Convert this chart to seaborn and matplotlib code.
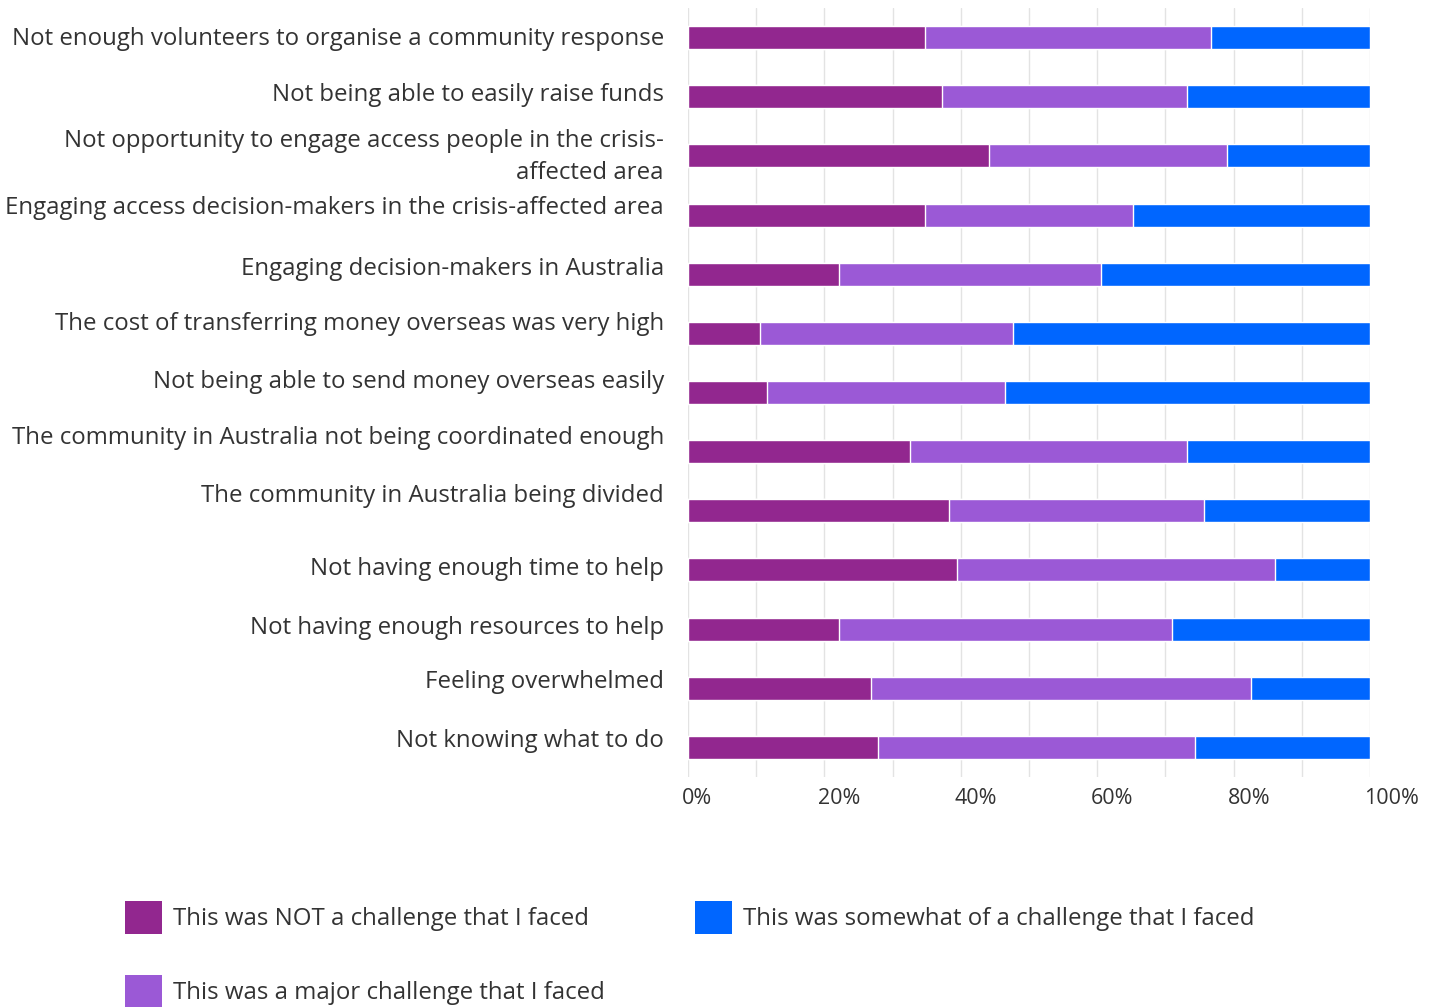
import matplotlib
matplotlib.use("Agg")
import matplotlib.pyplot as plt
import matplotlib.transforms as mtransforms
from matplotlib.patches import Patch
import numpy as np
import pandas as pd
import seaborn as sns

# Survey items (top to bottom)
categories = [
    "Not enough volunteers to organise a community response",
    "Not being able to easily raise funds",
    "Not opportunity to engage access people in the crisis-\naffected area",
    "Engaging access decision-makers in the crisis-affected area",
    "Engaging decision-makers in Australia",
    "The cost of transferring money overseas was very high",
    "Not being able to send money overseas easily",
    "The community in Australia not being coordinated enough",
    "The community in Australia being divided",
    "Not having enough time to help",
    "Not having enough resources to help",
    "Feeling overwhelmed",
    "Not knowing what to do",
]

# Share of respondents (%) per answer
not_challenge = [34.8, 37.2, 44.2, 34.8, 22.1, 10.5, 11.6, 32.5, 38.3, 39.5, 22.1, 26.8, 27.9]
major_challenge = [41.9, 36.0, 34.9, 30.4, 38.4, 37.2, 34.9, 40.7, 37.3, 46.6, 48.8, 55.8, 46.5]
somewhat_challenge = [23.3, 26.8, 20.9, 34.8, 39.5, 52.3, 53.5, 26.8, 24.4, 13.9, 29.1, 17.4, 25.6]

series_names = [
    "This was NOT a challenge that I faced",
    "This was a major challenge that I faced",
    "This was somewhat of a challenge that I faced",
]
colors = ["#92278F", "#9B59D6", "#0066FF"]

x_ticks = [0, 20, 40, 60, 80, 100]
x_tick_labels = ["0%", "20%", "40%", "60%", "80%", "100%"]

# Vertical nudge (pixels, up) for each category label
label_nudge = [-1, 2, -1, 7, 5, 9, 10, 14, 15, 1, 1, 6, 6]

df = pd.DataFrame({
    "item": categories,
    "not": not_challenge,
    "major": major_challenge,
    "somewhat": somewhat_challenge,
})
df["cum_major"] = df["not"] + df["major"]
df["cum_all"] = df["cum_major"] + df["somewhat"]

sns.set_style("white")
text_color = "#333333"
plt.rcParams["font.family"] = ["Open Sans", "DejaVu Sans"]

W, H, DPI = 1431, 1007, 100
fig = plt.figure(figsize=(W / DPI, H / DPI), dpi=DPI)
ax = fig.add_axes([688 / W, 1 - 777 / H, 682 / W, 769 / H])

# Stacked bars: draw cumulative totals back to front
bar_w = 0.39
sns.barplot(data=df, x="cum_all", y="item", order=categories, orient="h",
            color=colors[2], width=bar_w, saturation=1, ax=ax, zorder=3)
sns.barplot(data=df, x="cum_major", y="item", order=categories, orient="h",
            color=colors[1], width=bar_w, saturation=1, ax=ax, zorder=4)
sns.barplot(data=df, x="not", y="item", order=categories, orient="h",
            color=colors[0], width=bar_w, saturation=1, ax=ax, zorder=5)

ax.set_xlim(0, 100)
ax.set_ylim(len(categories) - 0.5, -0.5)
ax.set_xlabel("")
ax.set_ylabel("")

# Grid lines every 10%
ax.set_xticks(np.arange(0, 101, 10), minor=True)
ax.set_xticks(x_ticks)
ax.set_xticklabels(x_tick_labels)
ax.grid(axis="x", which="both", color="#E3E3E3", linewidth=1.0, zorder=0)
ax.set_axisbelow(True)
ax.tick_params(axis="x", which="both", length=0, pad=8, labelsize=15.5, labelcolor=text_color)
for lab in ax.get_xticklabels():
    lab.set_horizontalalignment("left")
    lab.set_transform(lab.get_transform() + mtransforms.ScaledTranslation(-6 / DPI, 0, fig.dpi_scale_trans))
for s in ax.spines.values():
    s.set_visible(False)

# Category labels
ax.set_yticks(range(len(categories)))
ax.set_yticklabels([])
ax.tick_params(axis="y", length=0)
for i, (cat, dy) in enumerate(zip(categories, label_nudge)):
    tr = ax.get_yaxis_transform() + mtransforms.ScaledTranslation(-24 / DPI, dy / DPI, fig.dpi_scale_trans)
    ax.text(0, i, cat, transform=tr, ha="right", va="center", multialignment="right",
            fontsize=17.3, color=text_color, linespacing=1.42)

# Legend
handles = [Patch(facecolor=c, edgecolor="none") for c in colors]
fig.legend(handles, series_names, loc="upper left",
           bbox_to_anchor=(125 / W, 1 - 901 / H), ncol=2, frameon=False,
           fontsize=17.3, handlelength=1.54, handleheight=1.74, handletextpad=0.45,
           labelspacing=1.7, columnspacing=3.77, borderpad=0, borderaxespad=0,
           labelcolor=text_color)

fig.savefig("out.png", dpi=DPI)
